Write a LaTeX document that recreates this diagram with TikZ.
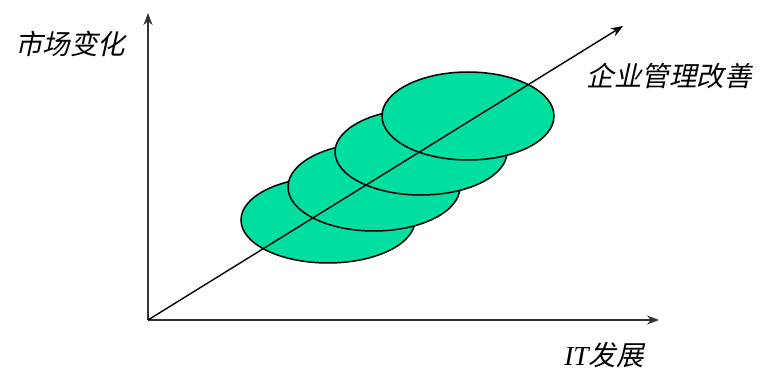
\documentclass[tikz,border=0pt]{standalone}
\usepackage{fontspec}
\newfontfamily\cjk[FakeSlant=0.22]{Noto Sans CJK SC}
\newfontfamily\latinit{Liberation Serif}
\usetikzlibrary{arrows.meta}
\definecolor{ellfill}{RGB}{0,222,160}
\definecolor{axisgray}{RGB}{50,50,50}
\tikzset{
  axisline/.style={draw=axisgray,line width=2.4pt,-{Stealth[length=12pt,width=9pt]}},
  diagline/.style={draw=black,line width=1.4pt,-{Stealth[length=12pt,width=9pt]}},
  ellbox/.style={draw=black,line width=1.5pt,fill=ellfill},
  lab/.style={font=\cjk\fontsize{27.5pt}{30pt}\selectfont,inner sep=0pt}
}
\begin{document}
\begin{tikzpicture}[x=1pt,y=-1pt]
\useasboundingbox (0,0) rectangle (768,371);
\coordinate (O) at (148,320);
\coordinate (Ytip) at (148,13);
\coordinate (Xtip) at (659,320);
\coordinate (Dtip) at (623,26);
\draw[ellbox] (328,220) ellipse [x radius=87, y radius=43];
\draw[ellbox] (374,187) ellipse [x radius=86, y radius=44];
\draw[ellbox] (421,152) ellipse [x radius=86, y radius=43];
\draw[ellbox] (468,116) ellipse [x radius=86, y radius=44];
\draw[axisline] (O) -- (Ytip);
\draw[axisline] (O) -- (Xtip);
\draw[diagline] (O) -- (Dtip);
\node[lab] (ylab) at (70,44) {市场变化};
\node[lab] (dlab) at (669,76) {企业管理改善};
\node[lab] (xlab) at (604,355) {{\latinit\itshape IT}发展};
\end{tikzpicture}
\end{document}
